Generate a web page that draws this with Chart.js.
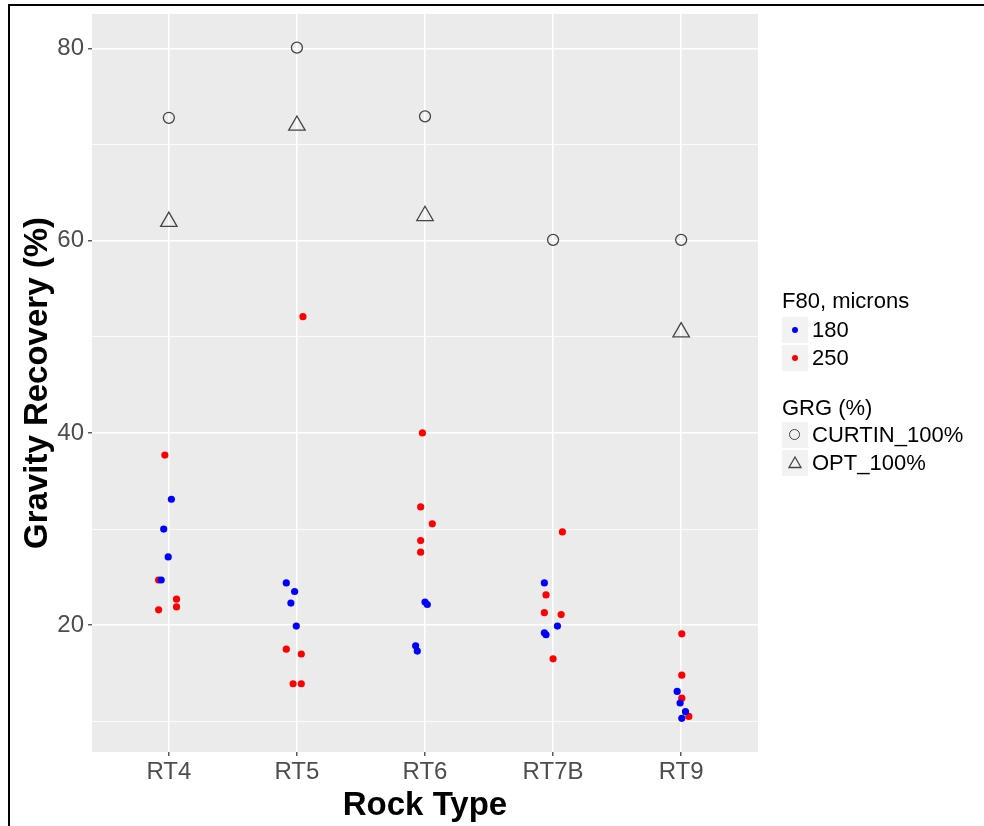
<!DOCTYPE html>
<html>
<head>
<meta charset="utf-8">
<script src="https://cdn.jsdelivr.net/npm/chart.js@4.4.1/dist/chart.umd.min.js"></script>
<style>
  html, body { margin: 0; padding: 0; background: #fff; overflow: hidden; }
  #wrap { position: relative; width: 984px; height: 826px; overflow: hidden; }
  #frame { position: absolute; left: 8px; top: 4px; width: 1100px; height: 1100px; border: 2px solid #000; box-sizing: border-box; }
  #chart { position: absolute; left: 0; top: 0; }
  .leg { position: absolute; font-family: "Liberation Sans", Arial, sans-serif; font-size: 22px; line-height: 26px; color: #000; white-space: nowrap; }
  .box { position: absolute; left: 782px; width: 26px; height: 26px; background: #f2f2f2; }
  .dot { position: absolute; left: 10px; top: 10px; width: 6px; height: 6px; border-radius: 50%; }
  .ring { position: absolute; left: 7px; top: 7px; width: 9px; height: 9px; border: 1.3px solid #444; border-radius: 50%; }
</style>
</head>
<body>
<div id="wrap">
  <div id="frame"></div>
  <canvas id="chart" width="984" height="826"></canvas>

  <div class="leg" style="left:782px; top:288px;">F80, microns</div>
  <div class="box" style="top:317px;"><div class="dot" style="background:#0000ff;"></div></div>
  <div class="leg" style="left:812px; top:317px;">180</div>
  <div class="box" style="top:345px;"><div class="dot" style="background:#ff0000;"></div></div>
  <div class="leg" style="left:812px; top:345px;">250</div>

  <div class="leg" style="left:782px; top:395px;">GRG (%)</div>
  <div class="box" style="top:422px;"><div class="ring"></div></div>
  <div class="leg" style="left:812px; top:422px;">CURTIN_100%</div>
  <div class="box" style="top:450px;">
    <svg width="26" height="26" style="position:absolute;left:0;top:0">
      <polygon points="13,7 19,17.5 7,17.5" fill="none" stroke="#444" stroke-width="1.3"/>
    </svg>
  </div>
  <div class="leg" style="left:812px; top:450px;">OPT_100%</div>
</div>

<script>
  'use strict';

  const categories = ['RT4', 'RT5', 'RT6', 'RT7B', 'RT9'];
  const yTicks = [10, 20, 30, 40, 50, 60, 70, 80];
  const yLabelTicks = [20, 40, 60, 80];

  // F80 = 180 microns (blue), jittered around each rock type
  const f180Group = ['RT4', 'RT4', 'RT4', 'RT4', 'RT5', 'RT5', 'RT5', 'RT5', 'RT6', 'RT6', 'RT6', 'RT6',
    'RT7B', 'RT7B', 'RT7B', 'RT7B', 'RT9', 'RT9', 'RT9', 'RT9'];
  const f180Jitter = [0.02, -0.04, -0.005, -0.06, -0.083, -0.018, -0.047, -0.005, 0, 0.018, -0.073, -0.06,
    -0.068, 0.034, -0.068, -0.055, -0.031, -0.008, 0.034, 0.005];
  const f180Values = [33.1, 30.0, 27.1, 24.7, 24.4, 23.5, 22.3, 19.9, 22.4, 22.15, 17.85, 17.3,
    24.4, 19.9, 19.2, 19.0, 13.1, 11.9, 11.0, 10.3];

  // F80 = 250 microns (red)
  const f250Group = ['RT4', 'RT4', 'RT4', 'RT4', 'RT4', 'RT5', 'RT5', 'RT5', 'RT5', 'RT5',
    'RT6', 'RT6', 'RT6', 'RT6', 'RT6', 'RT7B', 'RT7B', 'RT7B', 'RT7B', 'RT7B', 'RT9', 'RT9', 'RT9', 'RT9'];
  const f250Jitter = [-0.031, -0.08, 0.06, 0.06, -0.08, 0.047, -0.083, 0.034, -0.03, 0.034,
    -0.02, -0.034, 0.057, -0.034, -0.034, 0.073, -0.055, -0.068, 0.063, 0, 0.005, 0.005, 0.005, 0.06];
  const f250Values = [37.7, 24.7, 22.7, 21.9, 21.6, 52.1, 17.5, 17.0, 13.9, 13.9,
    40.0, 32.3, 30.55, 28.8, 27.6, 29.7, 23.15, 21.3, 21.1, 16.5, 19.1, 14.8, 12.4, 10.5];

  // GRG (%) reference values
  const curtinGroup = ['RT4', 'RT5', 'RT6', 'RT7B', 'RT9'];
  const curtinValues = [72.8, 80.1, 72.95, 60.1, 60.1];
  const optGroup = ['RT4', 'RT5', 'RT6', 'RT9'];
  const optValues = [62.0, 72.0, 62.6, 50.5];

  const FONT = '"Liberation Sans", Arial, sans-serif';

  function toPoints(groups, values, jitter) {
    return values.map((v, i) => ({
      x: categories.indexOf(groups[i]) + (jitter ? jitter[i] : 0),
      y: v
    }));
  }

  // grey ggplot-style panel
  const panelBg = {
    id: 'panelBg',
    beforeDraw(chart) {
      const { ctx, chartArea: a } = chart;
      ctx.save();
      ctx.fillStyle = '#ebebeb';
      ctx.fillRect(a.left, a.top, a.right - a.left, a.bottom - a.top);
      ctx.restore();
    }
  };

  const ctx = document.getElementById('chart');
  // eslint-disable-next-line no-unused-vars
  const myChart = new Chart(ctx, {
    type: 'scatter',
    data: {
      datasets: [{
        label: '180',
        data: toPoints(f180Group, f180Values, f180Jitter),
        pointRadius: 3.6,
        pointBorderWidth: 0,
        backgroundColor: '#0000ff',
        borderColor: '#0000ff'
      }, {
        label: '250',
        data: toPoints(f250Group, f250Values, f250Jitter),
        pointRadius: 3.6,
        pointBorderWidth: 0,
        backgroundColor: '#ff0000',
        borderColor: '#ff0000'
      }, {
        label: 'CURTIN_100%',
        data: toPoints(curtinGroup, curtinValues),
        pointStyle: 'circle',
        pointRadius: 5.5,
        pointBorderWidth: 1.3,
        backgroundColor: 'transparent',
        borderColor: '#444'
      }, {
        label: 'OPT_100%',
        data: toPoints(optGroup, optValues),
        pointStyle: 'triangle',
        pointRadius: 9.5,
        pointBorderWidth: 1.3,
        backgroundColor: 'transparent',
        borderColor: '#444'
      }]
    },
    options: {
      responsive: false,
      animation: false,
      layout: { autoPadding: false, padding: { left: 18, top: 14, right: 226, bottom: 0 } },
      plugins: {
        legend: { display: false },
        tooltip: { enabled: false }
      },
      scales: {
        x: {
          type: 'linear',
          min: -0.6,
          max: 4.6,
          afterBuildTicks: (s) => { s.ticks = categories.map((c, i) => ({ value: i })); },
          afterFit: (s) => { s.height = 74; s.paddingLeft = 0; s.paddingRight = 0; },
          border: { display: false },
          grid: { color: '#ffffff', lineWidth: 1.6, tickColor: '#333', tickLength: 4, tickWidth: 1.2 },
          ticks: {
            callback: (v) => categories[v],
            autoSkip: false,
            maxRotation: 0,
            padding: 2,
            color: '#4d4d4d',
            font: { family: FONT, size: 24 }
          },
          title: {
            display: true,
            text: 'Rock Type',
            color: '#000',
            padding: 0,
            font: { family: FONT, size: 33, weight: 'bold' }
          }
        },
        y: {
          min: 6.8,
          max: 83.6,
          afterBuildTicks: (s) => { s.ticks = yTicks.map((v) => ({ value: v })); },
          afterFit: (s) => { s.width = 74; s.paddingTop = 0; s.paddingBottom = 0; },
          border: { display: false },
          grid: {
            color: '#ffffff',
            lineWidth: (c) => (yLabelTicks.includes(c.tick.value) ? 1.6 : 0.8),
            tickColor: (c) => (yLabelTicks.includes(c.tick.value) ? '#333' : 'rgba(0,0,0,0)'),
            tickLength: 4,
            tickWidth: 1.2
          },
          ticks: {
            callback: (v) => (yLabelTicks.includes(v) ? v : ''),
            autoSkip: false,
            padding: 4,
            color: '#4d4d4d',
            font: { family: FONT, size: 24 }
          },
          title: {
            display: true,
            text: 'Gravity Recovery (%)',
            color: '#000',
            padding: 0,
            font: { family: FONT, size: 33, weight: 'bold' }
          }
        }
      }
    },
    plugins: [panelBg]
  });
</script>
</body>
</html>
